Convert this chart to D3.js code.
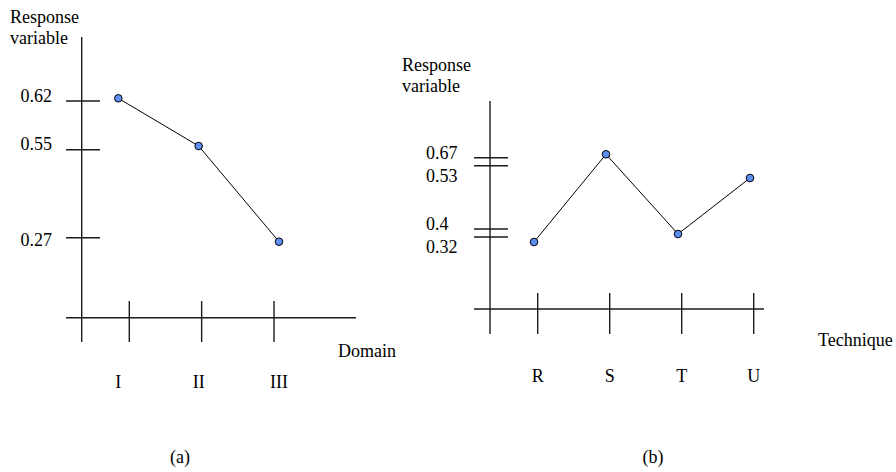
<!DOCTYPE html>
<html>
<head>
<meta charset="utf-8">
<script src="https://cdn.jsdelivr.net/npm/d3@7"></script>
<style>
  html, body { margin: 0; padding: 0; background: #fff; }
  svg { display: block; }
  text { font-family: "Liberation Serif", "Times New Roman", serif; font-size: 18px; fill: #000; }
</style>
</head>
<body>
<svg id="chart" width="896" height="472"></svg>
<script>
// Panel (a): response by domain
const domainCategories = ["I", "II", "III"];
const domainValues = [0.62, 0.55, 0.27];
const domainTicks = [0.62, 0.55, 0.27];
const domainTickLabels = ["0.62", "0.55", "0.27"];

// Panel (b): response by technique
const techniqueCategories = ["R", "S", "T", "U"];
const techniqueValues = [0.32, 0.67, 0.40, 0.53];
const techniqueTicks = [0.67, 0.53, 0.40, 0.32];
const techniqueTickLabels = ["0.67", "0.53", "0.4", "0.32"];

const captions = ["(a)", "(b)"];

const svg = d3.select("#chart");
const axisStroke = "#1a1a1a";
const pointFill = "#5f8ff2";

function hLine(g, x1, x2, y) {
  g.append("line").attr("x1", x1).attr("x2", x2).attr("y1", y).attr("y2", y)
    .attr("stroke", axisStroke).attr("stroke-width", 1.4);
}
function vLine(g, x, y1, y2) {
  g.append("line").attr("x1", x).attr("x2", x).attr("y1", y1).attr("y2", y2)
    .attr("stroke", axisStroke).attr("stroke-width", 1.4);
}

// ---------- Panel (a) ----------
{
  const g = svg.append("g");
  // schematic (non-proportional) value axis: piecewise scales
  const yTick = d3.scaleLinear().domain([0.27, 0.55, 0.62]).range([237.7, 149.7, 101]);
  const yMark = d3.scaleLinear().domain([0.27, 0.55, 0.62]).range([241.7, 146, 98.3]);
  const xTick = d3.scalePoint().domain(domainCategories).range([129.3, 274]);
  const xMark = d3.scalePoint().domain(domainCategories).range([118.3, 279]);

  const axisX = 81.7, baseY = 317.7;
  vLine(g, axisX, 37, 342);
  hLine(g, 66, 356, baseY);

  domainTicks.forEach((v, i) => {
    hLine(g, 66, 100, yTick(v));
    g.append("text").attr("x", 52).attr("y", yMark(v) + 4)
      .attr("text-anchor", "end").text(domainTickLabels[i]);
  });
  domainCategories.forEach(c => {
    vLine(g, xTick(c), 301, 342);
    g.append("text").attr("x", xMark(c)).attr("y", 388)
      .attr("text-anchor", "middle").text(c);
  });

  g.append("text").attr("x", 10).attr("y", 23).text("Response");
  g.append("text").attr("x", 10).attr("y", 44).text("variable");
  g.append("text").attr("x", 338).attr("y", 357).text("Domain");

  const pts = domainCategories.map((c, i) => [xMark(c), yMark(domainValues[i])]);
  g.append("path").attr("d", d3.line()(pts))
    .attr("fill", "none").attr("stroke", "#000").attr("stroke-width", 1);
  g.selectAll("circle").data(pts).join("circle")
    .attr("cx", d => d[0]).attr("cy", d => d[1]).attr("r", 3.8)
    .attr("fill", pointFill).attr("stroke", "#000").attr("stroke-width", 1);

  g.append("text").attr("x", 180).attr("y", 463)
    .attr("text-anchor", "middle").text(captions[0]);
}

// ---------- Panel (b) ----------
{
  const g = svg.append("g");
  const yTick = d3.scaleLinear().domain([0.32, 0.40, 0.53, 0.67]).range([237, 229, 165.7, 157.7]);
  const yMark = d3.scaleLinear().domain([0.32, 0.40, 0.53, 0.67]).range([242, 234, 178, 154.3]);
  const xTick = d3.scalePoint().domain(techniqueCategories).range([537.7, 753.7]);
  const xMark = d3.scalePoint().domain(techniqueCategories).range([534, 750]);

  const axisX = 490, baseY = 309;
  vLine(g, axisX, 101, 334);
  hLine(g, 474, 764, baseY);

  // ticks come in close pairs: upper label sits on its tick, lower label hangs below
  techniqueTicks.forEach((v, i) => {
    hLine(g, 474, 508, yTick(v));
    const upper = i % 2 === 0;
    g.append("text").attr("x", 426).attr("y", yTick(v) + (upper ? 1 : 16))
      .text(techniqueTickLabels[i]);
  });
  techniqueCategories.forEach(c => {
    vLine(g, xTick(c), 293, 334);
    g.append("text").attr("x", xTick(c)).attr("y", 382)
      .attr("text-anchor", "middle").text(c);
  });

  g.append("text").attr("x", 402).attr("y", 71).text("Response");
  g.append("text").attr("x", 402).attr("y", 92).text("variable");
  g.append("text").attr("x", 818).attr("y", 346).text("Technique");

  const pts = techniqueCategories.map((c, i) => [xMark(c), yMark(techniqueValues[i])]);
  g.append("path").attr("d", d3.line()(pts))
    .attr("fill", "none").attr("stroke", "#000").attr("stroke-width", 1);
  g.selectAll("circle").data(pts).join("circle")
    .attr("cx", d => d[0]).attr("cy", d => d[1]).attr("r", 3.8)
    .attr("fill", pointFill).attr("stroke", "#000").attr("stroke-width", 1);

  g.append("text").attr("x", 653).attr("y", 463)
    .attr("text-anchor", "middle").text(captions[1]);
}
</script>
</body>
</html>
